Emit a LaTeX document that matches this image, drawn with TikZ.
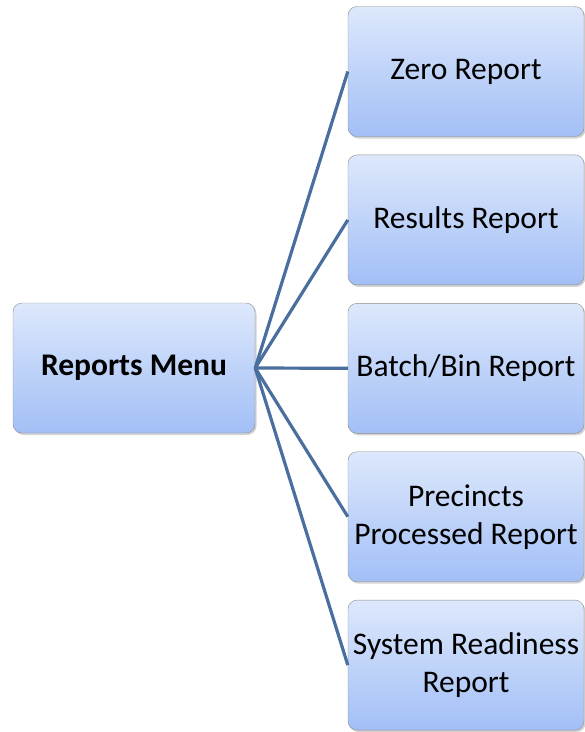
\documentclass[tikz,border=0pt]{standalone}
\usepackage{fontspec}
\setmainfont{Carlito}
\usepackage{tikz}
\usetikzlibrary{positioning, shadows}

\definecolor{boxtop}{HTML}{DDE8FC}
\definecolor{boxbot}{HTML}{A2BFF6}
\definecolor{boxline}{HTML}{8C8C8C}
\definecolor{linkblue}{HTML}{4A6F9E}

\begin{document}
\begin{tikzpicture}[
    x=1pt, y=1pt,
    font=\fontsize{31.5}{38}\selectfont,
    node distance=18pt,
    item/.style={draw=boxline, rounded corners=9pt, minimum width=236pt, minimum height=130pt,
                 align=center, top color=boxtop, bottom color=boxbot, inner sep=1pt,
                 drop shadow={shadow xshift=1.5pt, shadow yshift=-2pt, opacity=0.35}},
    link/.style={linkblue, line width=3.2pt}
]
\useasboundingbox (0,0) rectangle (585,-732);
\node[item, minimum width=242pt, font=\fontsize{31.5}{38}\selectfont\bfseries] (menu) at (134,-368) {Reports Menu};
\node[item] (zero) at (466,-71.5) {Zero Report};
\node[item, below=of zero]    (results) {Results Report};
\node[item, below=of results] (batch)   {Batch/Bin Report};
\node[item, below=of batch]   (precint) {Precincts\\Processed Report};
\node[item, below=of precint] (ready)   {System Readiness\\Report};
\foreach \b in {zero, results, batch, precint, ready}
   \draw[link] (menu.east) -- (\b.west);
\end{tikzpicture}
\end{document}
